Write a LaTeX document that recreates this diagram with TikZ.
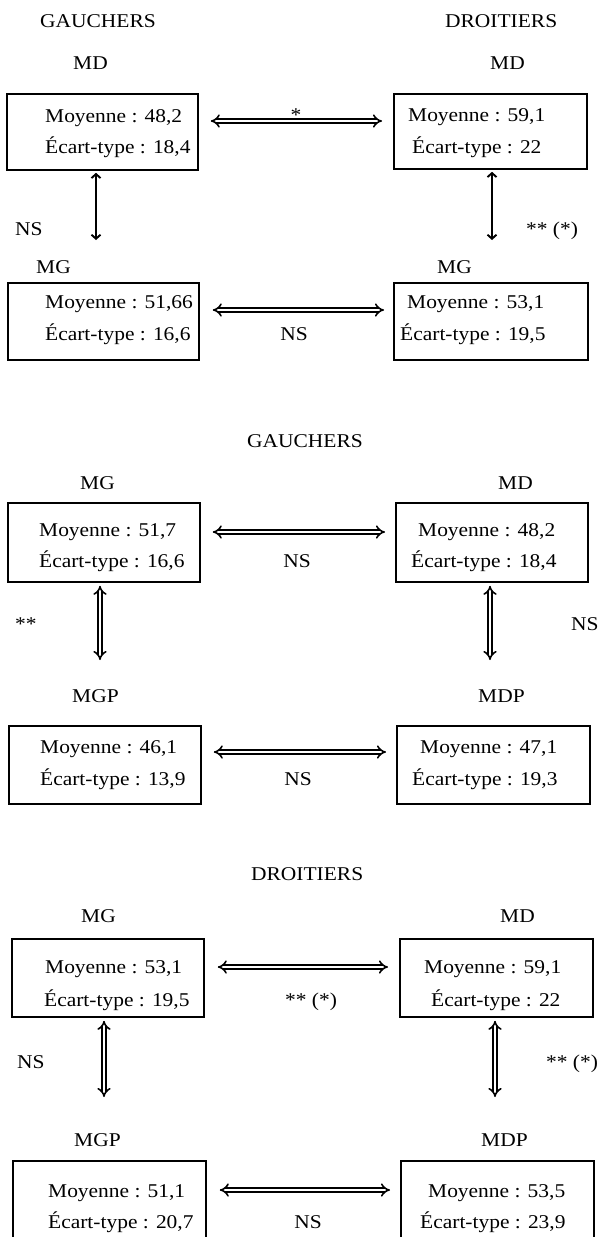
\documentclass[tikz,border=0pt]{standalone}
\usepackage{fontspec}
\setmainfont{Liberation Serif}[FakeStretch=1.1]
\usetikzlibrary{arrows.meta}
\begin{document}
\begin{tikzpicture}[x=1pt,y=-1pt,
  txt/.style={anchor=base west, inner sep=0pt, font=\fontsize{19.5}{23}\selectfont},
  ctxt/.style={anchor=base, inner sep=0pt, font=\fontsize{19.5}{23}\selectfont},
  databox/.style={draw, line width=1.8pt, rectangle, anchor=north west, inner sep=0pt},
  harr/.style={double, double distance=2.8pt, line width=1.6pt, {Implies}-{Implies}},
  sarr/.style={line width=1.9pt, {Straight Barb[length=4pt,width=9pt]}-{Straight Barb[length=4pt,width=9pt]}}
]
\useasboundingbox (0,0) rectangle (601,1237);
\fill[white] (0,0) rectangle (601,1237);

% ---------------- Section 1 ----------------
\node[txt] (t1g) at (40,27) {GAUCHERS};
\node[txt] (t1d) at (445,27) {DROITIERS};
\node[txt] (l1) at (73,69) {MD};
\node[txt] (l2) at (490,69) {MD};
\node[txt] (l3) at (36,273) {MG};
\node[txt] (l4) at (437,273) {MG};

\node[databox, minimum width=191pt, minimum height=76pt] (b1) at (6,93) {};
\node[databox, minimum width=193pt, minimum height=75pt] (b2) at (393,93) {};
\node[databox, minimum width=191pt, minimum height=77pt] (b3) at (7,282) {};
\node[databox, minimum width=194pt, minimum height=77pt] (b4) at (393,282) {};

\node[txt] (b1m) at (45,122) {Moyenne : 48,2};
\node[txt] (b1e) at (45,153) {Écart-type : 18,4};
\node[txt] (b2m) at (408,121) {Moyenne : 59,1};
\node[txt] (b2e) at (412,153) {Écart-type : 22};
\node[txt] (b3m) at (45,308) {Moyenne : 51,66};
\node[txt] (b3e) at (45,340) {Écart-type : 16,6};
\node[txt] (b4m) at (407,308) {Moyenne : 53,1};
\node[txt] (b4e) at (400,340) {Écart-type : 19,5};

\coordinate (h1) at (0,121);
\coordinate (h2) at (0,310);
\draw[harr, shorten <=12pt, shorten >=11pt] (b1.east |- h1) -- (b2.west |- h1);
\draw[harr, shorten <=13pt, shorten >=9pt] (b3.east |- h2) -- (b4.west |- h2);
\node[ctxt] (s1) at (296,121) {*};
\node[ctxt] (s2) at (294,340) {NS};

\coordinate (v1) at (96,240);
\coordinate (v2) at (492,240);
\draw[sarr, shorten <=2pt] (v1 |- b1.south) -- (v1);
\draw[sarr, shorten <=2pt] (v2 |- b2.south) -- (v2);
\node[txt] (s3) at (15,235) {NS};
\node[txt] (s4) at (526,235) {** (*)};

% ---------------- Section 2 ----------------
\node[txt] (t2) at (247,447) {GAUCHERS};
\node[txt] (l5) at (80,489) {MG};
\node[txt] (l6) at (498,489) {MD};
\node[txt] (l7) at (72,702) {MGP};
\node[txt] (l8) at (478,702) {MDP};

\node[databox, minimum width=192pt, minimum height=79pt] (b5) at (7,502) {};
\node[databox, minimum width=192pt, minimum height=79pt] (b6) at (395,502) {};
\node[databox, minimum width=192pt, minimum height=78pt] (b7) at (8,725) {};
\node[databox, minimum width=193pt, minimum height=78pt] (b8) at (396,725) {};

\node[txt] (b5m) at (39,536) {Moyenne : 51,7};
\node[txt] (b5e) at (39,567) {Écart-type : 16,6};
\node[txt] (b6m) at (418,536) {Moyenne : 48,2};
\node[txt] (b6e) at (411,567) {Écart-type : 18,4};
\node[txt] (b7m) at (40,753) {Moyenne : 46,1};
\node[txt] (b7e) at (40,785) {Écart-type : 13,9};
\node[txt] (b8m) at (420,753) {Moyenne : 47,1};
\node[txt] (b8e) at (412,785) {Écart-type : 19,3};

\coordinate (h3) at (0,532);
\coordinate (h4) at (0,752);
\draw[harr, shorten <=12pt, shorten >=10pt] (b5.east |- h3) -- (b6.west |- h3);
\draw[harr, shorten <=12pt, shorten >=10pt] (b7.east |- h4) -- (b8.west |- h4);
\node[ctxt] (s5) at (297,567) {NS};
\node[ctxt] (s6) at (298,785) {NS};

\coordinate (v3) at (100,660);
\coordinate (v4) at (490,660);
\draw[harr, shorten <=3pt] (v3 |- b5.south) -- (v3);
\draw[harr, shorten <=3pt] (v4 |- b6.south) -- (v4);
\node[txt] (s7) at (15,630) {**};
\node[txt] (s8) at (571,630) {NS};

% ---------------- Section 3 ----------------
\node[txt] (t3) at (251,880) {DROITIERS};
\node[txt] (l9) at (81,922) {MG};
\node[txt] (l10) at (500,922) {MD};
\node[txt] (l11) at (74,1146) {MGP};
\node[txt] (l12) at (481,1146) {MDP};

\node[databox, minimum width=192pt, minimum height=78pt] (b9) at (11,938) {};
\node[databox, minimum width=193pt, minimum height=78pt] (b10) at (399,938) {};
\node[databox, minimum width=193pt, minimum height=90pt] (b11) at (12,1160) {};
\node[databox, minimum width=193pt, minimum height=90pt] (b12) at (400,1160) {};

\node[txt] (b9m) at (45,973) {Moyenne : 53,1};
\node[txt] (b9e) at (44,1006) {Écart-type : 19,5};
\node[txt] (b10m) at (424,973) {Moyenne : 59,1};
\node[txt] (b10e) at (431,1006) {Écart-type : 22};
\node[txt] (b11m) at (48,1197) {Moyenne : 51,1};
\node[txt] (b11e) at (48,1228) {Écart-type : 20,7};
\node[txt] (b12m) at (428,1197) {Moyenne : 53,5};
\node[txt] (b12e) at (420,1228) {Écart-type : 23,9};

\coordinate (h5) at (0,967);
\coordinate (h6) at (0,1190);
\draw[harr, shorten <=13pt, shorten >=11pt] (b9.east |- h5) -- (b10.west |- h5);
\draw[harr, shorten <=13pt, shorten >=10pt] (b11.east |- h6) -- (b12.west |- h6);
\node[txt] (s9) at (285,1006) {** (*)};
\node[ctxt] (s10) at (308,1228) {NS};

\coordinate (v5) at (104,1097);
\coordinate (v6) at (495,1097);
\draw[harr, shorten <=3pt] (v5 |- b9.south) -- (v5);
\draw[harr, shorten <=3pt] (v6 |- b10.south) -- (v6);
\node[txt] (s11) at (17,1068) {NS};
\node[txt] (s12) at (546,1068) {** (*)};
\end{tikzpicture}
\end{document}
